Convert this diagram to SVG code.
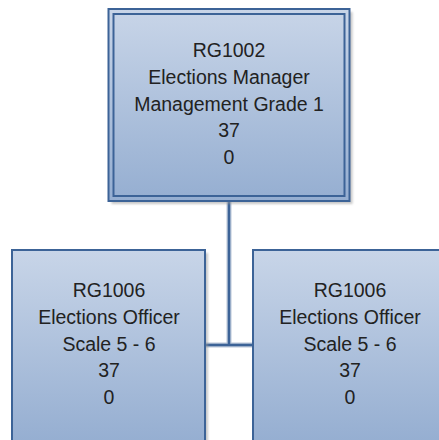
<svg xmlns="http://www.w3.org/2000/svg" width="439" height="440" viewBox="0 0 439 440">
  <style>
    .box { fill: url(#grad); stroke: #3c6397; stroke-width: 2; }
    .inner { fill: none; stroke: #3c6397; stroke-width: 2; }
    .shadow { fill: #9a9a9a; opacity: 0.55; filter: url(#blur); }
    .conn { fill: none; stroke: #3c6397; stroke-width: 2.5; }
    .halo { fill: none; stroke: #b9c6d8; stroke-width: 5; }
    text { font-family: "Liberation Sans", Arial, sans-serif; font-size: 19.5px; fill: #222222; text-anchor: middle; }
  </style>
  <defs>
    <linearGradient id="grad" x1="0" y1="0" x2="0" y2="1">
      <stop offset="0" stop-color="#c8d5e8"/>
      <stop offset="1" stop-color="#95aed1"/>
    </linearGradient>
    <filter id="blur" x="-10%" y="-10%" width="120%" height="120%">
      <feGaussianBlur stdDeviation="1.2"/>
    </filter>
  </defs>
  <g id="connectors">
    <path class="halo" d="M229 201 V345 M205 345 H253"/>
    <path class="conn" d="M229 201 V345 M205 345 H253"/>
  </g>
  <g id="node-rg1002">
    <rect class="shadow" x="111.5" y="12" width="241" height="192"/>
    <rect class="box" x="108.5" y="9" width="241" height="192"/>
    <rect class="inner" x="113.5" y="14" width="231" height="182"/>
    <text x="229" y="57">RG1002</text>
    <text x="229" y="83.75">Elections Manager</text>
    <text x="229" y="110.5">Management Grade 1</text>
    <text x="229" y="137.25">37</text>
    <text x="229" y="164">0</text>
  </g>
  <g id="node-rg1006-left">
    <rect class="shadow" x="15" y="253" width="193" height="193"/>
    <rect class="box" x="12" y="250" width="193" height="193"/>
    <text x="109" y="297">RG1006</text>
    <text x="109" y="323.75">Elections Officer</text>
    <text x="109" y="350.5">Scale 5 - 6</text>
    <text x="109" y="377.25">37</text>
    <text x="109" y="404">0</text>
  </g>
  <g id="node-rg1006-right">
    <rect class="shadow" x="256" y="253" width="193" height="193"/>
    <rect class="box" x="253" y="250" width="193" height="193"/>
    <text x="350" y="297">RG1006</text>
    <text x="350" y="323.75">Elections Officer</text>
    <text x="350" y="350.5">Scale 5 - 6</text>
    <text x="350" y="377.25">37</text>
    <text x="350" y="404">0</text>
  </g>
</svg>
